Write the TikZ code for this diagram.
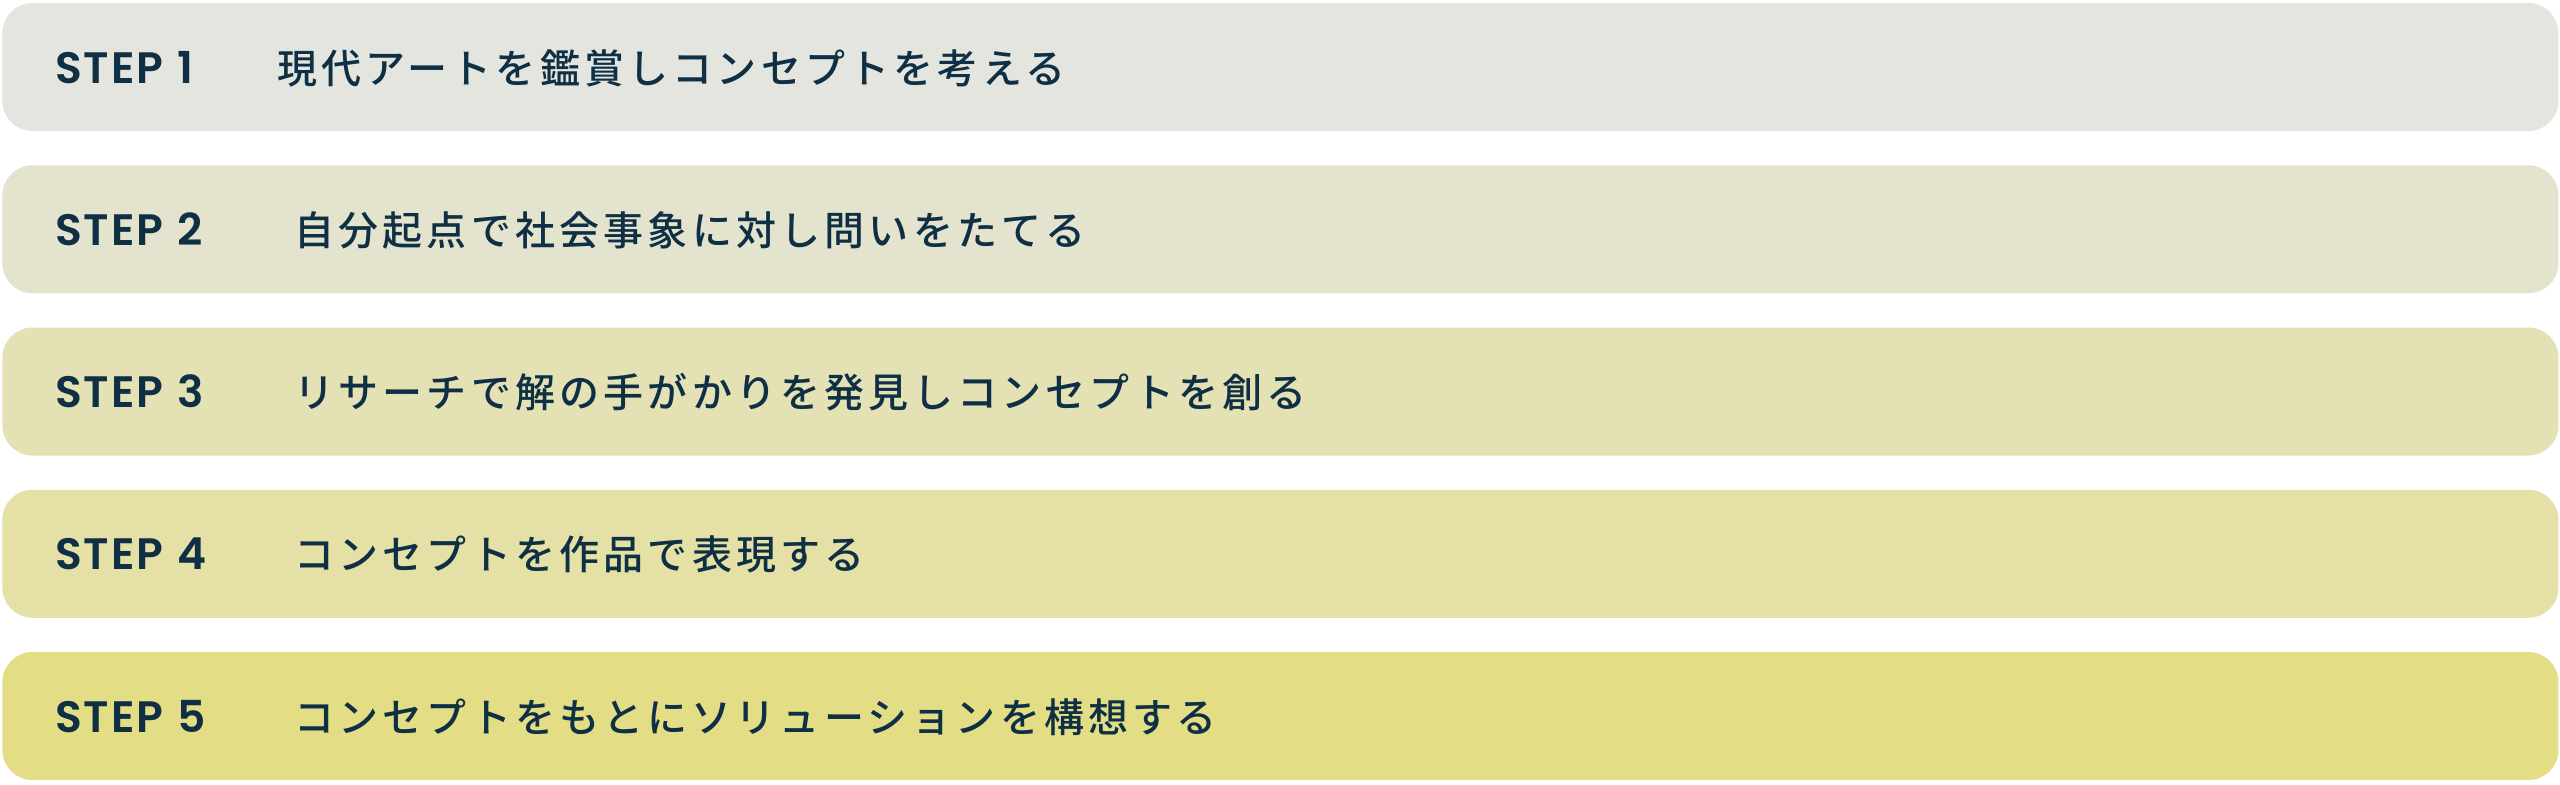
\documentclass[tikz,border=0pt]{standalone}
\usepackage{fontspec}
\newfontfamily\jpfont{Noto Sans CJK JP Medium}[LetterSpace=10.5]
\newfontfamily\stepfont{Poppins SemiBold}[LetterSpace=4]
\definecolor{ink}{HTML}{0E2F44}
\definecolor{shadeA}{HTML}{E5E5E0}
\definecolor{shadeB}{HTML}{E4E3CE}
\definecolor{shadeC}{HTML}{E4E1B5}
\definecolor{shadeD}{HTML}{E4E0A6}
\definecolor{shadeE}{HTML}{E3DE86}
\newcommand{\stepno}[1]{STEP\hspace{7pt}#1}
\tikzset{%
            base/.style = {rectangle, rounded corners=15pt, draw=none,
                           minimum width=1278pt, minimum height=64pt,
                           anchor=west, inner sep=0pt},
  bar1/.style = {base, fill=shadeA},
  bar2/.style = {base, fill=shadeB},
  bar3/.style = {base, fill=shadeC},
  bar4/.style = {base, fill=shadeD},
  bar5/.style = {base, fill=shadeE},
  steplabel/.style = {anchor=base west, inner sep=0pt, text=ink,
                      font=\stepfont\fontsize{22pt}{26pt}\selectfont},
  steptext/.style  = {anchor=base west, inner sep=0pt, text=ink,
                      font=\jpfont\fontsize{20pt}{24pt}\selectfont},
}

\begin{document}
\begin{tikzpicture}[x=0.5pt, y=-0.5pt]

  \fill[white] (0,0) rectangle (2560,784);
  \useasboundingbox (0,0) rectangle (2560,784);

  \node (bar1) [bar1] at (2,67)     {};
  \node (bar2) [bar2] at (2,229.25) {};
  \node (bar3) [bar3] at (2,391.5)  {};
  \node (bar4) [bar4] at (2,553.75) {};
  \node (bar5) [bar5] at (2,716)    {};

  \node (lab1) [steplabel] at (55,83)     {\stepno{1}};
  \node (lab2) [steplabel] at (55,245.25) {\stepno{2}};
  \node (lab3) [steplabel] at (55,407.5)  {\stepno{3}};
  \node (lab4) [steplabel] at (55,569.75) {\stepno{4}};
  \node (lab5) [steplabel] at (55,732)    {\stepno{5}};

  \node (txt1) [steptext] at (277,83)     {現代アートを鑑賞しコンセプトを考える};
  \node (txt2) [steptext] at (294,245.25) {自分起点で社会事象に対し問いをたてる};
  \node (txt3) [steptext] at (294,407.5)  {リサーチで解の手がかりを発見しコンセプトを創る};
  \node (txt4) [steptext] at (294,569.75) {コンセプトを作品で表現する};
  \node (txt5) [steptext] at (294,732)    {コンセプトをもとにソリューションを構想する};

\end{tikzpicture}
\end{document}
